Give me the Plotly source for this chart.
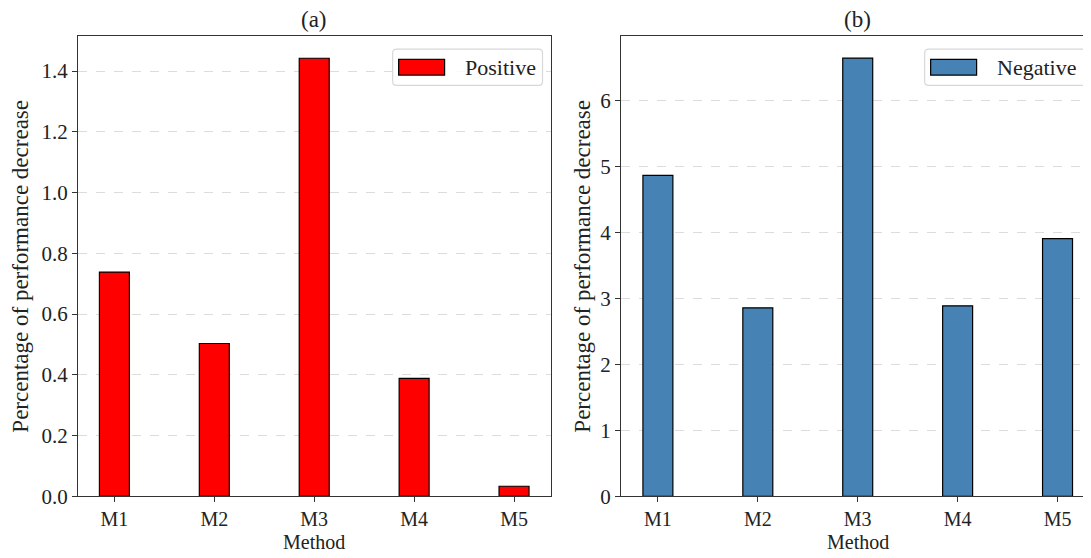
import plotly.graph_objects as go

methods = ["M1", "M2", "M3", "M4", "M5"]
positive = [0.738, 0.503, 1.442, 0.388, 0.033]
negative = [4.87, 2.86, 6.65, 2.89, 3.91]
xpos = [0, 1, 2, 3, 4]

W, H = 1091, 558
FONT = "Liberation Serif"

# layout in pixels
TOP, BOT = 29, 499
L1, R1 = 70, 543
L2, R2 = 613.5, 1091


def px(x):
    return x / W


def py(y):
    return (H - y) / H


fig = go.Figure()
fig.add_trace(go.Bar(x=xpos, y=positive, width=0.3, name="Positive", showlegend=False,
                     marker=dict(color="#ff0000", line=dict(color="black", width=1.2)),
                     xaxis="x", yaxis="y"))
fig.add_trace(go.Bar(x=xpos, y=negative, width=0.3, name="Negative", showlegend=False,
                     marker=dict(color="#4682b4", line=dict(color="black", width=1.2)),
                     xaxis="x2", yaxis="y2"))

ydom = [py(BOT), py(TOP)]
axis_common = dict(showline=True, linecolor="#333333", linewidth=1.2, mirror=True,
                   ticks="outside", ticklen=5, tickcolor="#333333", zeroline=False)
yfont = dict(family=FONT, size=21, color="#222222")
xfont = dict(family=FONT, size=20, color="#222222")
grid = dict(showgrid=True, gridcolor="#dcdcdc", griddash="dash", gridwidth=1)
ytitle = "Percentage of performance decrease"

fig.update_layout(
    width=W, height=H,
    margin=dict(l=0, r=0, t=0, b=0),
    plot_bgcolor="white", paper_bgcolor="white",
    font=dict(family=FONT, color="#222222"),
    showlegend=False,
    xaxis=dict(domain=[px(L1), px(R1)], range=[-0.365, 4.365],
               tickvals=xpos, ticktext=methods, showgrid=False, tickfont=xfont,
               anchor="y", **axis_common),
    yaxis=dict(domain=ydom, range=[0, 1.514], tickvals=[0, 0.2, 0.4, 0.6, 0.8, 1.0, 1.2, 1.4],
               ticktext=["0.0", "0.2", "0.4", "0.6", "0.8", "1.0", "1.2", "1.4"],
               tickfont=yfont,
               title=dict(text=ytitle, font=dict(family=FONT, size=23), standoff=6),
               anchor="x", **grid, **axis_common),
    xaxis2=dict(domain=[px(L2), px(R2)], range=[-0.37, 4.405],
                tickvals=xpos, ticktext=methods, showgrid=False, tickfont=xfont,
                anchor="y2", **axis_common),
    yaxis2=dict(domain=ydom, range=[0, 6.98], tickvals=[0, 1, 2, 3, 4, 5, 6],
                tickfont=yfont,
                title=dict(text=ytitle, font=dict(family=FONT, size=23), standoff=3),
                anchor="x2", **grid, **axis_common),
)


def rounded_rect(x0, y0, x1, y1, r):
    return (f"M {px(x0 + r)},{py(y0)} L {px(x1 - r)},{py(y0)} "
            f"Q {px(x1)},{py(y0)} {px(x1)},{py(y0 + r)} L {px(x1)},{py(y1 - r)} "
            f"Q {px(x1)},{py(y1)} {px(x1 - r)},{py(y1)} L {px(x0 + r)},{py(y1)} "
            f"Q {px(x0)},{py(y1)} {px(x0)},{py(y1 - r)} L {px(x0)},{py(y0 + r)} "
            f"Q {px(x0)},{py(y0)} {px(x0 + r)},{py(y0)} Z")


def add_legend(box_left, box_right, label, color):
    y0 = TOP + 13
    y1 = y0 + 37
    fig.add_shape(type="path", path=rounded_rect(box_left, y0, box_right, y1, 4),
                  xref="paper", yref="paper", fillcolor="rgba(255,255,255,0.85)",
                  line=dict(color="#d8d8d8", width=1.2), layer="above")
    cy = (y0 + y1) / 2
    fig.add_shape(type="rect", x0=px(box_left + 6), x1=px(box_left + 52),
                  y0=py(cy - 8), y1=py(cy + 8), xref="paper", yref="paper",
                  fillcolor=color, line=dict(color="black", width=1.2), layer="above")
    fig.add_annotation(text=label, x=px(box_left + 70), y=py(cy), xref="paper", yref="paper",
                       xanchor="left", yanchor="middle", showarrow=False,
                       font=dict(family=FONT, size=22, color="#222222"))


add_legend(R1 - 158, R1 - 8, "Positive", "#ff0000")
add_legend(L2 + 304, L2 + 304 + 170, "Negative", "#4682b4")

for txt, xc in [("(a)", (L1 + R1) / 2), ("(b)", L2 + 37 + 200)]:
    fig.add_annotation(text=txt, x=px(xc), y=py(TOP - 17), xref="paper", yref="paper",
                       xanchor="center", yanchor="middle", showarrow=False,
                       font=dict(family=FONT, size=23, color="#222222"))

for xc in [(L1 + R1) / 2, L2 + 37 + 200]:
    fig.add_annotation(text="Method", x=px(xc), y=py(545.5), xref="paper", yref="paper",
                       xanchor="center", yanchor="middle", showarrow=False,
                       font=dict(family=FONT, size=20, color="#222222"))

fig.write_html("out.html")
